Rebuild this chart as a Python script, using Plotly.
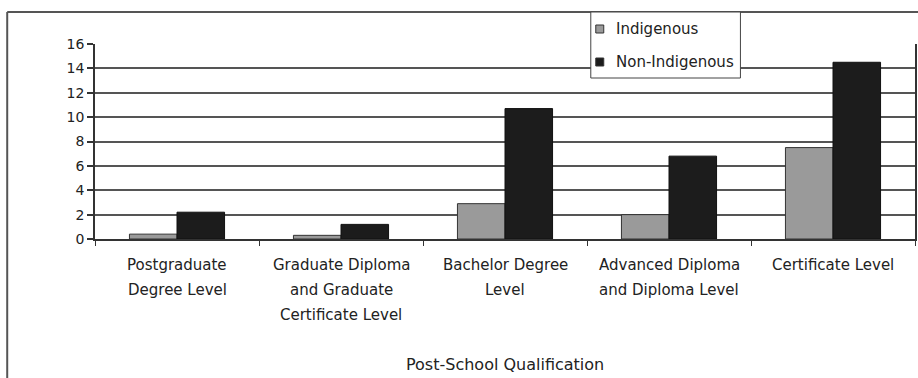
import plotly.graph_objects as go

# Post-school qualification rates (%), by Indigenous status
categories = [
    "Postgraduate Degree Level",
    "Graduate Diploma and Graduate Certificate Level",
    "Bachelor Degree Level",
    "Advanced Diploma and Diploma Level",
    "Certificate Level",
]
category_lines = [
    ["Postgraduate", "Degree Level"],
    ["Graduate Diploma", "and Graduate", "Certificate Level"],
    ["Bachelor Degree", "Level"],
    ["Advanced Diploma", "and Diploma Level"],
    ["Certificate Level"],
]
indigenous = [0.4, 0.3, 2.9, 2.0, 7.5]
non_indigenous = [2.2, 1.2, 10.7, 6.8, 14.5]
series_names = ["Indigenous", "Non-Indigenous"]
y_ticks = [0, 2, 4, 6, 8, 10, 12, 14, 16]

W, H = 918, 378
ML, MR, MT, MB = 95, 1, 44, 139
PW, PH = W - ML - MR, H - MT - MB

FONT = "DejaVu Sans"
TXT = "#222222"
GREY = "#9a9a9a"
BLACK = "#1c1c1c"


def px_x(px):
    return (px - ML) / PW


def px_y(py):
    return (H - MB - py) / PH


fig = go.Figure()
fig.add_trace(go.Bar(
    x=categories, y=indigenous, name=series_names[0],
    marker=dict(color=GREY, line=dict(color="#333333", width=1)),
    showlegend=False,
))
fig.add_trace(go.Bar(
    x=categories, y=non_indigenous, name=series_names[1],
    marker=dict(color=BLACK, line=dict(color="#111111", width=1)),
    showlegend=False,
))

annotations = []
# multi-line category labels with wide line spacing
for cat, lines in zip(categories, category_lines):
    for i, line in enumerate(lines):
        annotations.append(dict(
            x=cat, y=0, xref="x", yref="paper", text=line, showarrow=False,
            xanchor="center", yanchor="middle", yshift=-26 - 25 * i,
            font=dict(family=FONT, size=15, color=TXT),
        ))

# x-axis title
annotations.append(dict(
    x=0.5, y=0, xref="paper", yref="paper", text="Post-School Qualification",
    showarrow=False, xanchor="center", yanchor="middle", yshift=-125,
    font=dict(family=FONT, size=16, color=TXT),
))

# legend text
legend_rows = [29, 62]
for name, row in zip(series_names, legend_rows):
    annotations.append(dict(
        x=px_x(615), y=px_y(row), xref="paper", yref="paper", text=name,
        showarrow=False, xanchor="left", yanchor="middle",
        font=dict(family=FONT, size=15, color=TXT),
    ))

shapes = [
    # outer frame (top and left edges)
    dict(type="line", xref="paper", yref="paper",
         x0=px_x(7), x1=px_x(W + 2), y0=px_y(12), y1=px_y(12),
         line=dict(color="#555555", width=2), layer="above"),
    dict(type="line", xref="paper", yref="paper",
         x0=px_x(7), x1=px_x(7), y0=px_y(12), y1=px_y(H + 2),
         line=dict(color="#555555", width=2), layer="above"),
    # legend box
    dict(type="rect", xref="paper", yref="paper",
         x0=px_x(592), x1=px_x(742), y0=px_y(78), y1=px_y(12),
         fillcolor="white", line=dict(color="#444444", width=1), layer="above"),
]
for color, row in zip([GREY, BLACK], legend_rows):
    shapes.append(dict(
        type="rect", xref="paper", yref="paper",
        x0=px_x(597), x1=px_x(605), y0=px_y(row + 4), y1=px_y(row - 4),
        fillcolor=color, line=dict(color="#333333", width=1), layer="above",
    ))

fig.update_layout(
    width=W, height=H,
    margin=dict(l=ML, r=MR, t=MT, b=MB, pad=0),
    paper_bgcolor="white", plot_bgcolor="white",
    barmode="group", bargap=0.42, bargroupgap=0,
    font=dict(family=FONT, size=14, color=TXT),
    annotations=annotations, shapes=shapes,
    xaxis=dict(
        showticklabels=False, ticks="outside", tickson="boundaries",
        ticklen=5, tickcolor="#333333", tickwidth=1,
        showline=True, linecolor="#333333", linewidth=1.5,
        showgrid=False, zeroline=False,
    ),
    yaxis=dict(
        range=[0, 16], tickvals=y_ticks, ticktext=[str(v) for v in y_ticks],
        ticks="outside", ticklen=6, tickcolor="#333333", tickwidth=1.5,
        ticklabelstandoff=0,
        tickfont=dict(family=FONT, size=14, color=TXT),
        showline=True, linecolor="#333333", linewidth=1.5, mirror=True,
        showgrid=True, gridcolor="#555555", gridwidth=1.5,
        zeroline=False,
    ),
)

fig.write_html("out.html")
